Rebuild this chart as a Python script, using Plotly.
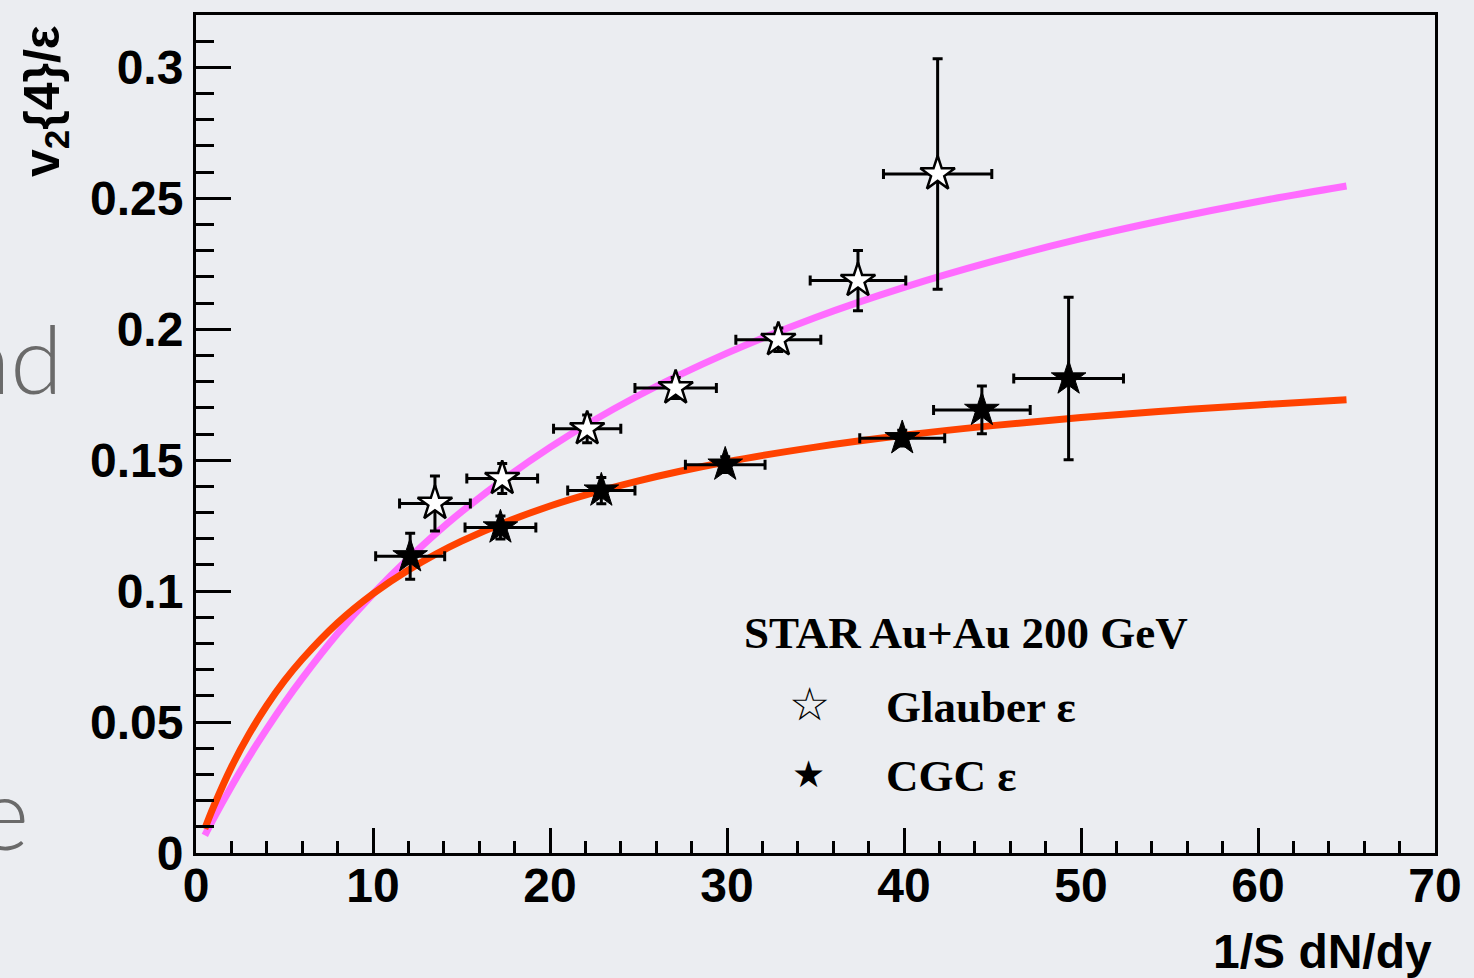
import plotly.graph_objects as go

# ---- data ----
glauber_x = [13.5, 17.3, 22.1, 27.1, 32.9, 37.4, 41.9]
glauber_y = [0.1335, 0.143, 0.162, 0.1776, 0.196, 0.2186, 0.2593]
glauber_xerr = [2.0, 2.0, 1.9, 2.3, 2.4, 2.7, 3.06]
glauber_yerr = [0.0105, 0.0057, 0.0053, 0.004, 0.0045, 0.0115, 0.044]

cgc_x = [12.1, 17.2, 22.9, 29.9, 39.9, 44.4, 49.3]
cgc_y = [0.1133, 0.1243, 0.1384, 0.1483, 0.1584, 0.1692, 0.1812]
cgc_xerr = [1.95, 2.0, 1.9, 2.25, 2.4, 2.73, 3.1]
cgc_yerr = [0.0088, 0.0044, 0.005, 0.003, 0.003, 0.0091, 0.031]

curve_x = [0.5, 1, 2, 3, 4, 5, 6, 8, 10, 12, 15, 20, 25, 30, 35, 40, 45, 50, 55, 60, 65]
glauber_fit = [0.0067, 0.0132, 0.0254, 0.0368, 0.0474, 0.0574, 0.0667, 0.0838, 0.0989,
               0.1124, 0.1303, 0.1549, 0.1747, 0.1909, 0.2045, 0.2160, 0.2259, 0.2346,
               0.2421, 0.2488, 0.2547]
cgc_fit = [0.0093, 0.0178, 0.0328, 0.0454, 0.0563, 0.0658, 0.0740, 0.0879, 0.0990,
           0.1081, 0.1191, 0.1325, 0.1421, 0.1494, 0.1550, 0.1595, 0.1632, 0.1663,
           0.1689, 0.1711, 0.1731]

x_ticks = [0, 10, 20, 30, 40, 50, 60, 70]
y_ticks = [0, 0.05, 0.1, 0.15, 0.2, 0.25, 0.3]
y_tick_labels = ["0", "0.05", "0.1", "0.15", "0.2", "0.25", "0.3"]

BG = "#ebedf1"
W, H = 1474, 978
L, R, T, B = 196, 1438, 12, 853


def px(xp):
    return (xp - L) / (R - L)


def py(yp):
    return (B - yp) / (B - T)


fig = go.Figure()

fig.add_trace(go.Scatter(x=curve_x, y=glauber_fit, mode="lines", line=dict(color="#ff6cff", width=7, shape="spline"),
                         showlegend=False, hoverinfo="skip"))
fig.add_trace(go.Scatter(x=curve_x, y=cgc_fit, mode="lines", line=dict(color="#ff4200", width=7, shape="spline"),
                         showlegend=False, hoverinfo="skip"))

err_style = dict(color="black", thickness=3, width=5)
fig.add_trace(go.Scatter(
    x=glauber_x, y=glauber_y, mode="markers",
    marker=dict(symbol="star", size=26, color="white", line=dict(color="black", width=2.5)),
    error_x=dict(type="data", array=glauber_xerr, **err_style),
    error_y=dict(type="data", array=glauber_yerr, **err_style),
    showlegend=False))
fig.add_trace(go.Scatter(
    x=cgc_x, y=cgc_y, mode="markers",
    marker=dict(symbol="star", size=26, color="black", line=dict(color="black", width=1)),
    error_x=dict(type="data", array=cgc_xerr, **err_style),
    error_y=dict(type="data", array=cgc_yerr, **err_style),
    showlegend=False))

tickfont = dict(family="Liberation Sans", size=48, color="black", weight="bold")

fig.update_xaxes(range=[0, 70], tickvals=x_ticks, ticktext=[str(v) for v in x_ticks],
                 ticks="inside", ticklen=25, tickwidth=2.5, tickcolor="black",
                 minor=dict(ticks="inside", ticklen=12, tickwidth=2.5, tickcolor="black", dtick=2),
                 showline=True, linewidth=3, linecolor="black", mirror=True,
                 showgrid=False, zeroline=False, tickfont=tickfont, ticklabelstandoff=-12)
fig.update_yaxes(range=[0, 0.32], tickvals=y_ticks, ticktext=y_tick_labels,
                 ticks="inside", ticklen=35, tickwidth=2.5, tickcolor="black",
                 minor=dict(ticks="inside", ticklen=18, tickwidth=2.5, tickcolor="black", dtick=0.01),
                 showline=True, linewidth=3, linecolor="black", mirror=True,
                 showgrid=False, zeroline=False, tickfont=tickfont)

ann = []
# slide text fragments (partly off the page in the reference too)
ann.append(dict(text="nd", x=px(65), y=py(355), xref="paper", yref="paper", xanchor="right", yanchor="middle",
                showarrow=False, font=dict(family="Lato", size=95, color="#6a6a6a", weight=300)))
ann.append(dict(text="e", x=px(31), y=py(811), xref="paper", yref="paper", xanchor="right", yanchor="middle",
                showarrow=False, font=dict(family="Lato", size=100, color="#6a6a6a", weight=300)))
# axis titles
ann.append(dict(text="<b>v<sub>2</sub>{4}/ε</b>", x=px(45), y=py(98), xref="paper", yref="paper",
                xanchor="center", yanchor="middle", textangle=-90, showarrow=False,
                font=dict(family="Liberation Sans", size=50, color="black")))
ann.append(dict(text="<b>1/S dN/dy</b>", x=px(1437), y=py(952), xref="paper", yref="paper",
                xanchor="right", yanchor="middle", showarrow=False,
                font=dict(family="Liberation Sans", size=48, color="black")))
# legend
serif = dict(family="Liberation Serif", size=45, color="black", weight="bold")
ann.append(dict(text="STAR Au+Au 200 GeV", x=px(743), y=py(632), xref="paper", yref="paper",
                xanchor="left", yanchor="middle", showarrow=False, font=serif))
ann.append(dict(text="Glauber ε", x=px(886), y=py(706), xref="paper", yref="paper",
                xanchor="left", yanchor="middle", showarrow=False, font=serif))
ann.append(dict(text="CGC ε", x=px(886), y=py(776), xref="paper", yref="paper",
                xanchor="left", yanchor="middle", showarrow=False, font=serif))
ann.append(dict(text="☆", x=px(811), y=py(703), xref="paper", yref="paper",
                xanchor="center", yanchor="middle", showarrow=False,
                font=dict(family="DejaVu Sans", size=46, color="black", weight="bold")))
ann.append(dict(text="★", x=px(810), y=py(774), xref="paper", yref="paper",
                xanchor="center", yanchor="middle", showarrow=False,
                font=dict(family="DejaVu Sans", size=37, color="black")))

fig.update_layout(width=W, height=H, margin=dict(l=L, r=W - R, t=T, b=H - B, pad=0),
                  paper_bgcolor=BG, plot_bgcolor=BG, annotations=ann, showlegend=False)

fig.write_html("out.html")
